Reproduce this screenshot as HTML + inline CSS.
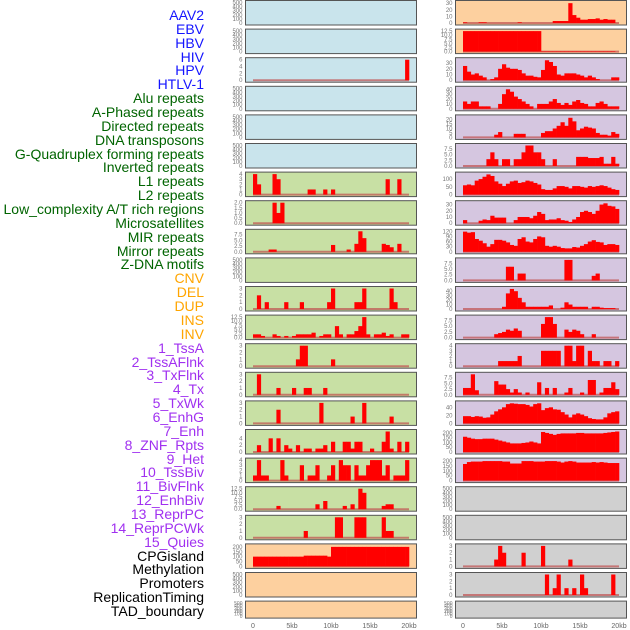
<!DOCTYPE html>
<html><head><meta charset="utf-8"><style>
html,body{margin:0;padding:0;background:#fff;width:630px;height:630px;overflow:hidden}
#lbl{position:absolute;left:0;top:0;width:204px}
.l{position:absolute;right:0;font:14px "Liberation Sans",sans-serif;white-space:nowrap;line-height:14px}
svg{position:absolute;left:0;top:0}
</style></head><body>
<div id="lbl"></div>
<svg id="chart" width="630" height="630"></svg>
<script>
const labelNames = ["AAV2","EBV","HBV","HIV","HPV","HTLV-1","Alu repeats","A-Phased repeats","Directed repeats","DNA transposons","G-Quadruplex forming repeats","Inverted repeats","L1 repeats","L2 repeats","Low_complexity A/T rich regions","Microsatellites","MIR repeats","Mirror repeats","Z-DNA motifs","CNV","DEL","DUP","INS","INV","1_TssA","2_TssAFlnk","3_TxFlnk","4_Tx","5_TxWk","6_EnhG","7_Enh","8_ZNF_Rpts","9_Het","10_TssBiv","11_BivFlnk","12_EnhBiv","13_ReprPC","14_ReprPCWk","15_Quies","CPGisland","Methylation","Promoters","ReplicationTiming","TAD_boundary"];
const labelGroups = [6,13,5,15,5];
const groupColors = ["#1414ff","#006400","#ffa500","#a030f0","#000000"];
const binSizeBp = 500;
const xTickValues = [0,5000,10000,15000,20000];
const xTickLabels = ["0","5kb","10kb","15kb","20kb"];
const emptyTicks = [0,100,200,300,400,500];

const L2 = [0,0,0,0,0,0,0,0,0,0,0,0,0,0,0,0,0,0,0,0,0,0,0,0,0,0,0,0,0,0,0,0,0,0,0,0,0,0,0,6];
const L6 = [4,2,0,0,0,4,3,0,0,0,0,0,0,0,1,1,0,0,1,0,1,0,0,0,0,0,0,0,0,0,0,0,0,0,3,0,0,3,0,0];
const L7 = [0,0,0,0,0,2,1,2,0,0,0,0,0,0,0,0,0,0,0,0,0,0,0,0,0,0,0,0,0,0,0,0,0,0,0,0,0,0,0,0];
const L8 = [0,0,0,0,1,1,0,0,0,0,0,0,0,0,0,0,0,0,0,0,3,0,0,0,1,0,3.5,9,6,0,0,0,0,3.5,3,2,0,3.5,0,0];
const L10 = [0,2,0,1,0,0,0,0,1,0,0,0,1,0,0,0,0,0,0,1,3,0,0,0,0,0,1,1,3,0,0,0,0,0,0,3,1,0,0,0];
const L11 = [2,2,1,0,0,2,1,0,1,0,1,2,2,2,2,3,0,1,2,2,0,7,2,0,2,2,4,7,12.5,2,0,2,2,3,1,2,0,0,2,2];
const L12 = [0,0,0,0,0,0,0,0,0,0,0,1,3,3,0,0,0,0,0,0,1,0,0,0,0,0,0,0,0,0,0,0,0,0,0,0,0,0,0,0];
const L13 = [0,3,0,0,0,0,1,0,0,0,1,0,0,1,1,0,0,0,1,0,0,0,0,0,0,0,0,0,0,0,0,0,0,0,0,0,0,0,0,0];
const L14 = [0,0,0,0,0,0,2,0,0,0,0,0,0,0,0,0,0,3,0,0,0,0,0,0,0,1,0,0,3,0,0,0,0,0,0,1,0,0,0,0];
const L15 = [0,2,0,0,4,0,4,0,2,1,0,2,0,1,1,0,1,1,2,0,3,0,0,3,3,1,3,3,0,0,1,0,0,3,6,1,0,3,0,3];
const L16 = [1,4,1,1,0,0,0,4,1,0,0,0,3,0,1,1,3,0,0,1,3,0,4,3,3,0,3,1,1,3,4,4,4,1,3,0,1,1,1,4];
const L17 = [0,0,0,0,0,0,2,0,0,0,0,0,0,0,0,0,3,0,5,0,0,0,0,2,0,3,0,12.5,10,0,0,0,0,2,3,3,0,0,0,0];
const L18 = [0,0,0,0,0,0,0,0,0,0,0,0,0,1,0,0,0,0,0,0,0,3,3,0,0,0,3,3,3,0,0,0,0,3,1,1,0,0,0,0];
const L19 = [100,100,100,100,100,100,100,100,100,100,100,100,100,110,110,110,110,110,110,100,200,200,200,200,200,200,200,200,200,200,200,200,200,200,200,200,200,200,200,200];

const R0 = [1,0,0,0,1,1,0,0,0,0,0,0,0,0,1,0,0,0,0,0,0,0,0,3,3,3,3,30,12,8,5,5,6,6,7,5,6,5,5,0];
const R1 = [12.5,12.5,12.5,12.5,12.5,12.5,12.5,12.5,12.5,12.5,12.5,12.5,12.5,12.5,12.5,12.5,12.5,12.5,12.5,12.5,0.3,0.3,0.3,0.3,0.3,0.3,0.3,0.3,0.3,0.3,0.3,0.3,0.3,0.3,0.3,0.3,0.3,0.3,0.3,0];
const R2 = [25,15,10,12,8,5,0,2,5,20,28,22,20,20,18,12,8,8,6,5,18,35,32,25,10,8,12,12,12,10,8,5,8,5,2,0,0,0,5,5];
const R3 = [15,10,15,15,5,5,5,0,0,10,30,40,35,25,20,15,10,5,0,10,10,10,15,20,12,8,12,8,15,18,12,10,5,5,12,15,10,5,5,5];
const R4 = [0,0,0,0,0,0,0,0,3,6,0,0,0,4,4,4,0,0,0,0,5,7,7,10,13,17,13,22,18,8,10,12,11,10,5,3,3,2,6,4];
const R5 = [0,0,0,0,0,0,3,6,3,0,3,3,0,3,3,6,9,9,6,6,3,0,0,3,0,0,0,0,0,4,4,4,3.5,3.5,3.5,4,1,1,4,1];
const R6 = [60,65,60,90,100,115,130,120,85,70,55,70,85,90,75,80,90,85,75,65,35,30,30,40,55,55,50,40,55,55,50,45,55,50,55,60,55,45,35,30];
const R7 = [5,0,0,0,4,6,5,12,9,9,9,0,0,5,10,10,10,8,12,18,15,5,6,6,8,5,4,2,6,10,18,20,18,15,20,30,32,28,27,23];
const R8 = [118,112,115,75,65,50,30,45,70,70,65,55,40,35,75,85,60,55,75,90,85,35,30,35,30,22,20,20,28,25,35,45,60,68,58,55,40,45,45,40];
const R9 = [0,0,0,0,0,0,0,0,0,0,0,6,6,0,3,3,0,0,0,0,0,0,0,0,0,0,9,9,0,0,0,0,0,2,3,0,0,0,0,0];
const R10 = [0,0,0,0,0,0,0,0,0,0,5,35,45,40,25,15,5,5,5,5,5,5,8,0,0,3,15,10,5,5,5,5,0,5,5,3,2,2,2,0];
const R11 = [0,0,0,0,0,0,0,0,1.5,2,2.5,3.5,3,4,3,0,0,0,0,0,6,9,9,6,0,0,3.5,2.5,3.5,3,1.5,0,0,1.5,0,0,0,0,0,0];
const R12 = [0,0,0,0,0,0,0,0,0,1,1,1,1,1,2,0,0,0,0,0,3,3,3,3,3,0,4,4,1,4,4,0,3,1,1,0,1,1,0,1];
const R13 = [3,3,9,2,0,0,0,0,6,4.5,4.5,2.5,1,2.5,1,0,1,0,0,5.5,0,3,0,3,0,0,1,3,0,0,1,0,6.5,6.5,0,1,3,3,5.5,2.5];
const R14 = [18,18,16,18,17,14,15,22,30,35,40,48,50,49,48,48,46,42,48,50,33,38,40,35,34,28,22,15,22,25,22,18,13,11,10,10,15,25,28,30];
const R15 = [160,150,140,135,135,140,140,140,130,120,110,100,90,90,90,95,100,110,100,90,210,200,190,180,190,195,195,195,195,200,200,195,195,195,195,195,200,205,210,215];
const R16 = [170,190,195,195,195,200,200,200,200,200,195,195,175,175,175,200,200,200,195,195,195,200,200,200,195,185,195,200,195,185,185,185,185,190,185,190,185,180,180,180];
const R19 = [0,0,0,0,0,0,0,0,1,3,2,0,0,0,0,2,0,0,0,0,3,0,0,0,0,0,0,1,0,0,0,0,0,0,0,0,0,0,0,0];
const R20 = [0,0,0,0,0,0,0,0,0,0,0,0,0,0,0,0,0,0,0,0,0,3,0,1,3,0,1,0,1,0,3,1,0,0,0,0,0,0,3,0];

const BG = {b:"#c9e4ec",g:"#c8e0a4",o:"#fdd09f",p:"#d5c6e0",k:"#d0d0d0"};
// [bg, data, ticks, ymax]
const leftPanels = [
 ["b",null],["b",null],["b",L2,[0,2,4,6],6],["b",null],["b",null],["b",null],
 ["g",L6,[0,1,2,3,4],4],["g",L7,[0,0.5,1,1.5,2],2],["g",L8,[0,2.5,5,7.5],9],["g",null],
 ["g",L10,[0,1,2,3],3],["g",L11,[0,2.5,5,7.5,10,12.5],12.5],["g",L12,[0,1,2,3],3],["g",L13,[0,1,2,3],3],
 ["g",L14,[0,1,2,3],3],["g",L15,[0,2,4],6],["g",L16,[0,1,2,3,4],4],["g",L17,[0,2.5,5,7.5,10,12.5],12.5],
 ["g",L18,[0,1,2,3],3],["o",L19,[0,50,100,150,200],210],["o",null],["o",null]];
const rightPanels = [
 ["o",R0,[0,10,20,30],31],["o",R1,[0,2.5,5,7.5,10,12.5],12.5],["p",R2,[0,10,20,30],36],["p",R3,[0,10,20,30,40],42],
 ["p",R4,[0,5,10,15,20],23],["p",R5,[0,2.5,5,7.5],9],["p",R6,[0,50,100],132],["p",R7,[0,10,20,30],33],
 ["p",R8,[0,30,60,90,120],120],["p",R9,[0,2.5,5,7.5],9],["p",R10,[0,10,20,30,40],46],["p",R11,[0,2.5,5,7.5],9],
 ["p",R12,[0,1,2,3,4],4],["p",R13,[0,2.5,5,7.5],9],["p",R14,[0,20,40],51],["p",R15,[0,50,100,150,200],215],
 ["p",R16,[0,50,100,150,200],210],["k",null],["k",null],["k",R19,[0,1,2,3],3],["k",R20,[0,1,2,3],3],["k",null]];

const NS="http://www.w3.org/2000/svg";
const svg=document.getElementById('chart');
function mk(tag,attrs,parent){const e=document.createElementNS(NS,tag);for(const k in attrs)e.setAttribute(k,attrs[k]);(parent||svg).appendChild(e);return e;}

// labels
const lbl=document.getElementById('lbl');
let gi=0,gc=0;
labelNames.forEach((n,i)=>{
  const d=document.createElement('div');d.className='l';
  d.textContent=n;
  d.style.top=(8+i*13.86)+'px';
  d.style.color=groupColors[gi];
  
  
  lbl.appendChild(d);
  gc++; if(gc>=labelGroups[gi]){gi++;gc=0;}
});

function drawCol(panels,px0,zeroX,colName){
  const pw=171, kbpx=7.8;
  const xs=bp=>zeroX+bp/1000*kbpx;
  panels.forEach((p,i)=>{
    const top=i*28.6+0.5, h=(i===21)?17:24.5;
    const g=mk('g',{});
    
    
    const clipId=colName+'c'+i;
    const cp=mk('clipPath',{id:clipId},g);mk('rect',{x:px0,y:top,width:pw,height:h},cp);
    mk('rect',{x:px0,y:top,width:pw,height:h,fill:BG[p[0]]},g);
    const data=p[1];
    const ticks=data?p[2]:emptyTicks, ymax=data?p[3]:500;
    const y0=top+h-2, ys=v=>y0-v/ymax*(h-4);
    const dec=ticks.some(t=>t%1!==0);
    ticks.forEach(t=>{
      const tx=mk('text',{x:px0-3,y:ys(t)+2,'text-anchor':'end','font-size':(h<20?5:6),fill:'#777','font-family':'Liberation Sans, sans-serif'},g);
      tx.textContent=dec?t.toFixed(1):String(t);
    });
    if(data){
      const dg=mk('g',{'clip-path':'url(#'+clipId+')'},g);
      mk('line',{x1:xs(0),x2:xs(20000),y1:y0,y2:y0,stroke:'#c05050','stroke-width':2,opacity:0.7},dg);
      data.forEach((v,j)=>{
        if(v<=0)return;
        const x1=xs(j*binSizeBp),x2=xs((j+1)*binSizeBp);
        const r=mk('rect',{x:x1,y:ys(v),width:x2-x1+0.3,height:y0-ys(v),fill:'#ff0000'},dg);
        
        
      });
    }
    mk('rect',{x:px0,y:top,width:pw,height:h,fill:'none',stroke:'#555','stroke-width':1},g);
  });
  xTickValues.forEach((v,k)=>{
    const t=mk('text',{x:xs(v),y:628,'text-anchor':'middle','font-size':7,fill:'#666','font-family':'Liberation Sans, sans-serif'});
    
    
    t.textContent=xTickLabels[k];
  });
}
drawCol(leftPanels,245.5,253,'left');
drawCol(rightPanels,455.5,463,'right');
</script>
</body></html>
